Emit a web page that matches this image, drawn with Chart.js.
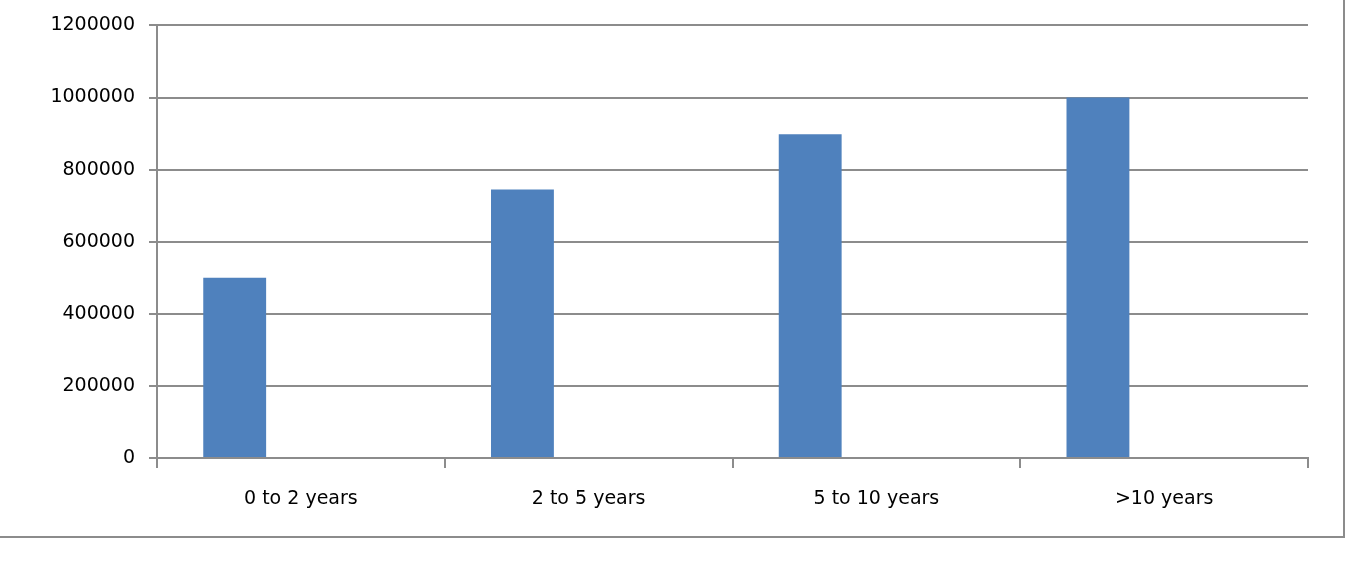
<!DOCTYPE html>
<html>
<head>
<meta charset="utf-8">
<script src="https://cdn.jsdelivr.net/npm/chart.js@4/dist/chart.umd.min.js"></script>
<style>
  body { margin: 0; background: #fff; }
  #wrap { position: absolute; left: 0; top: 0; width: 1343px; height: 536px;
          border-right: 2px solid #8c8c8c; border-bottom: 2px solid #8c8c8c; }
</style>
</head>
<body>
<div id="wrap"><canvas id="chart"></canvas></div>
<script>
// Chart data
const categories = ['0 to 2 years', '2 to 5 years', '5 to 10 years', '>10 years'];
const seriesValues = [500000, 745000, 898000, 1000000];
const emptySeries = [null, null, null, null];

const gridColor = '#8c8c8c';
const tickFont = { family: 'DejaVu Sans', size: 19 };

new Chart(document.getElementById('chart'), {
    type: 'bar',
    data: {
        labels: categories,
        datasets: [
            { data: seriesValues, backgroundColor: '#4f81bd', categoryPercentage: 0.92, barPercentage: 0.475 },
            { data: emptySeries, backgroundColor: '#c0504d', categoryPercentage: 0.92, barPercentage: 0.475 }
        ]
    },
    options: {
        responsive: true,
        maintainAspectRatio: false,
        animation: false,
        layout: { padding: { top: 11, right: 35, left: 0, bottom: 0 } },
        plugins: { legend: { display: false }, tooltip: { enabled: false } },
        scales: {
            x: {
                grid: { offset: true, drawOnChartArea: false, color: gridColor, tickLength: 10, lineWidth: 2 },
                border: { color: gridColor, width: 2 },
                ticks: { color: '#000', font: tickFont, padding: 20 },
                afterFit: function (axis) { axis.height = 78; }
            },
            y: {
                min: 0,
                max: 1200000,
                ticks: {
                    stepSize: 200000, color: '#000', font: tickFont, padding: 14,
                    callback: function (v) { return String(v); }
                },
                grid: { color: gridColor, tickLength: 8, lineWidth: 2 },
                border: { color: gridColor, width: 2 },
                afterFit: function (axis) { axis.width = 157; }
            }
        }
    }
});
</script>
</body>
</html>
